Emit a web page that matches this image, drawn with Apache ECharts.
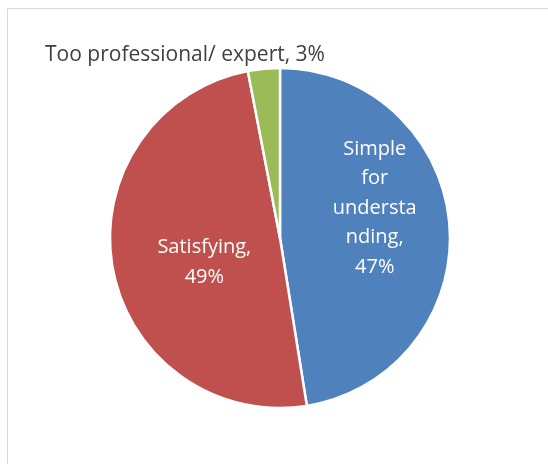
<!DOCTYPE html>
<html>
<head>
<meta charset="utf-8">
<script src="https://cdn.jsdelivr.net/npm/echarts@6/dist/echarts.min.js"></script>
<style>
  html, body { margin: 0; padding: 0; background: #fff; }
  #chart { width: 548px; height: 464px; }
</style>
</head>
<body>
<div id="chart"></div>
<script>
// Survey answers and their shares (%)
const categories = ['Simple for understanding', 'Satisfying', 'Too professional/ expert'];
const values = [47, 49, 3];
// How each label is wrapped on the chart
const labelLines = [
  ['Simple', 'for', 'understa', 'nding,'],
  ['Satisfying,'],
  ['Too professional/ expert,']
];
const colors = ['#4F81BD', '#C0504D', '#9BBB59'];

const chart = echarts.init(document.getElementById('chart'));

const data = categories.map((name, i) => ({
  name: name,
  value: values[i],
  itemStyle: { color: colors[i] },
  label: i === 2 ? { color: '#404040', fontSize: 21 } : undefined
}));

chart.setOption({
  backgroundColor: '#ffffff',
  animation: false,
  graphic: [{
    type: 'rect',
    shape: { x: 7.5, y: 8.5, width: 600, height: 500 },
    style: { fill: 'none', stroke: '#d9d9d9', lineWidth: 1 },
    silent: true,
    z: -10
  }],
  series: [{
    type: 'pie',
    center: [280, 238],
    radius: 170,
    startAngle: 90,
    clockwise: true,
    data: data,
    itemStyle: { borderColor: '#ffffff', borderWidth: 2.5 },
    labelLine: { show: false },
    label: {
      show: true,
      position: 'inside',
      color: '#ffffff',
      fontFamily: 'Open Sans',
      fontSize: 20,
      lineHeight: 29.5,
      align: 'center',
      formatter: p => labelLines[p.dataIndex].join('\n') +
        (p.dataIndex === 2 ? ' ' : '\n') + values[p.dataIndex] + '%'
    },
    labelLayout: function (params) {
      const i = params.dataIndex;
      if (i === 0) return { dx: 7, dy: -23 };
      if (i === 1) return { dx: 11, dy: 9 };
      return { x: 185, y: 55, align: 'center', verticalAlign: 'middle' };
    }
  }]
});
</script>
</body>
</html>
